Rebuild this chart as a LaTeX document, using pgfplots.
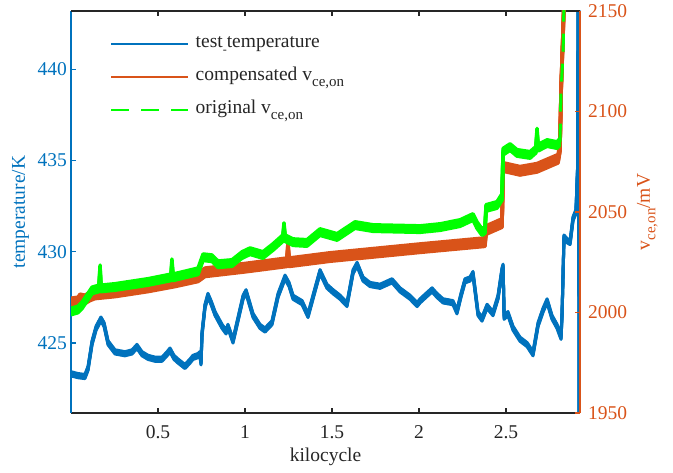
\documentclass[border=0pt]{standalone}
\usepackage{fontspec}
\setmainfont{Liberation Serif}
\usepackage{pgfplots}
\pgfplotsset{compat=1.18}
\definecolor{mblue}{RGB}{0,114,189}
\definecolor{morange}{RGB}{217,83,25}
\definecolor{mgreen}{RGB}{0,255,0}
\definecolor{mgray}{RGB}{38,38,38}
\newcommand\sub[1]{\raisebox{-0.6ex}{\fontsize{15bp}{16bp}\selectfont #1}}
\tikzset{vband/.style={preaction={draw, transform canvas={yshift=#1}}, preaction={draw, transform canvas={yshift=-#1}}}}
\begin{document}
\begin{tikzpicture}[font=\fontsize{19.5bp}{23bp}\selectfont]
\path[use as bounding box] (-71bp,-60bp) rectangle (602bp,413bp);
\pgfplotsset{common/.style={scale only axis, width=509bp, height=402bp, xmin=0, xmax=2.925,
  at={(0,0)}, anchor=south west, tick align=inside, major tick length=5bp,
  /pgf/number format/assume math mode=true, /pgf/number format/1000 sep={},
  scaled x ticks=false, scaled y ticks=false, clip=true,
  xtick={0.5,1,1.5,2,2.5},
  x axis line style={mgray, line width=2.5bp},
  xtick style={mgray, line width=1.5bp},
  xticklabel style={mgray, inner ysep=0pt, yshift=-12bp}}}
\begin{axis}[common, axis x line*=bottom, axis y line*=left,
  ymin=421.15, ymax=443.2, ytick={425,430,435,440},
  y axis line style={mblue, line width=2.5bp},
  ytick style={mblue, line width=1.5bp},
  yticklabel style={mblue, inner xsep=0pt, xshift=-4bp},
  xlabel={kilocycle}, ylabel={temperature/K},
  every axis x label/.style={at={(axis description cs:0.5,-0.1219)}, anchor=base, mgray},
  every axis y label/.style={at={(axis description cs:-0.0904,0.5)}, rotate=90, anchor=base, mblue}]
\addplot[mblue, line width=3bp, line join=round, vband=1.2bp, vband=2.1bp] coordinates {
(0.000,423.3) (0.040,423.2) (0.080,423.15) (0.098,423.6) (0.121,425.0) (0.144,425.8)
(0.172,426.3) (0.190,426.0) (0.213,425.0) (0.253,424.5) (0.310,424.4) (0.351,424.5)
(0.379,424.8) (0.408,424.4) (0.443,424.2) (0.483,424.1) (0.523,424.1) (0.552,424.4)
(0.569,424.6) (0.592,424.2) (0.615,424.0) (0.655,423.7) (0.684,424.0) (0.701,424.2)
(0.730,424.3) (0.741,424.4) (0.747,423.9) (0.753,425.5) (0.770,427.0) (0.787,427.6)
(0.805,427.2) (0.828,426.6) (0.868,425.9) (0.891,425.6) (0.902,425.9) (0.931,425.1)
(0.960,426.3) (0.989,427.5) (1.006,427.8) (1.046,426.5) (1.086,425.9) (1.115,425.7)
(1.155,426.1) (1.190,427.6) (1.230,428.6) (1.253,428.2) (1.276,427.5) (1.328,427.2)
(1.362,426.5) (1.402,427.9) (1.431,428.9) (1.471,428.1) (1.506,427.8) (1.546,427.5)
(1.586,427.1) (1.621,428.9) (1.644,429.3) (1.678,428.5) (1.718,428.2) (1.776,428.1)
(1.845,428.4) (1.891,427.9) (1.948,427.5) (1.989,427.1) (2.006,427.3) (2.040,427.6)
(2.075,427.9) (2.103,427.6) (2.138,427.3) (2.195,427.2) (2.218,426.7) (2.241,427.6)
(2.264,428.4) (2.293,428.5) (2.310,428.8) (2.339,426.6) (2.362,426.3) (2.391,427.0)
(2.425,426.6) (2.454,427.5) (2.477,429.0) (2.483,429.2) (2.489,426.4) (2.511,426.6)
(2.540,425.8) (2.580,425.2) (2.621,424.9) (2.655,424.4) (2.684,426.0) (2.713,426.8)
(2.736,427.3) (2.764,426.4) (2.793,425.9) (2.816,425.3) (2.822,426.6) (2.833,430.8)
(2.851,430.6) (2.868,430.5) (2.885,431.8) (2.902,432.2) (2.911,434.5) (2.917,450.0)
(2.922,400.0)};
\end{axis}
\begin{axis}[common, axis x line*=top, axis y line*=right,
  xticklabels={},
  ymin=1950, ymax=2150, ytick={1950,2000,2050,2100,2150},
  y axis line style={morange, line width=2.5bp},
  ytick style={morange, line width=1.5bp},
  yticklabel style={morange, inner xsep=0pt, xshift=8bp},
  ylabel={v\sub{ce,on}/mV},
  every axis y label/.style={at={(axis description cs:1.1375,0.5)}, rotate=90, anchor=base, morange},
  legend image code/.code={\draw[#1] (0bp,0bp) -- (77bp,0bp);},
  legend cell align=left,
  legend style={draw=none, fill=none, at={(axis description cs:0.0766,0.9415)}, anchor=north west,
    inner sep=0pt, row sep=14bp, text=mgray,
    nodes={inner sep=0pt, text height=13bp, text depth=6bp},
    /tikz/every odd column/.append style={column sep=6bp}}]
\addlegendimage{mblue, line width=2.5bp}
\addlegendentry{test\raisebox{-0.7ex}{\fontsize{12bp}{12bp}\selectfont -}temperature}
\addlegendimage{morange, line width=2.5bp}
\addlegendentry{compensated v\sub{ce,on}}
\addlegendimage{mgreen, line width=2.5bp, dash pattern=on 18bp off 12bp}
\addlegendentry{original v\sub{ce,on}}
\addplot[morange, line width=3.5bp, line join=round, vband=1.5bp, vband=3bp, vband=4.25bp, forget plot] coordinates {
(0.000,2005) (0.040,2005.5) (0.052,2007) (0.080,2006.5) (0.109,2008) (0.138,2009)
(0.253,2010) (0.443,2012.5) (0.598,2015) (0.730,2017.5) (0.770,2020) (1.000,2022.3)
(1.241,2025) (1.247,2033) (1.253,2025) (1.489,2027.6) (2.006,2032) (2.379,2035)
(2.385,2041) (2.477,2044.5) (2.483,2072.4) (2.580,2070.5) (2.678,2072) (2.799,2076.5)
(2.810,2082) (2.816,2110) (2.822,2125) (2.828,2140) (2.833,2155)};
\addplot[mgreen, line width=3.5bp, line join=round, vband=1.5bp, vband=3.25bp, forget plot] coordinates {
(0.000,2000.5) (0.040,2001.5) (0.063,2003.5) (0.098,2008) (0.121,2011) (0.161,2012)
(0.167,2022) (0.172,2012) (0.253,2012.7) (0.443,2015.2) (0.575,2017.5) (0.580,2025)
(0.586,2017.5) (0.730,2020.5) (0.759,2027.5) (0.810,2027) (0.845,2024) (0.925,2024.6)
(0.983,2028.6) (1.029,2030.5) (1.103,2028.6) (1.161,2032.6) (1.218,2037) (1.224,2043)
(1.230,2037) (1.276,2035) (1.356,2034.6) (1.431,2040) (1.529,2037.6) (1.632,2043.5)
(1.736,2042) (2.006,2041.5) (2.121,2042.5) (2.236,2044.5) (2.310,2047.5) (2.333,2043.5)
(2.362,2040) (2.379,2041) (2.385,2052) (2.448,2053.5) (2.477,2057.5) (2.483,2080)
(2.523,2082.3) (2.563,2079.4) (2.638,2078.4) (2.672,2081) (2.678,2090) (2.684,2082)
(2.736,2084.3) (2.793,2083.3) (2.810,2085)};
\addplot[mgreen, line width=3bp, dash pattern=on 18bp off 12bp, forget plot] coordinates {
(2.810,2085) (2.816,2110) (2.828,2130) (2.833,2155)};
\node[anchor=base east, text=mgray] at (axis description cs:1,-0.1343) {×10\raisebox{5bp}{\fontsize{15bp}{15bp}\selectfont 5}};
\end{axis}
\end{tikzpicture}
\end{document}
